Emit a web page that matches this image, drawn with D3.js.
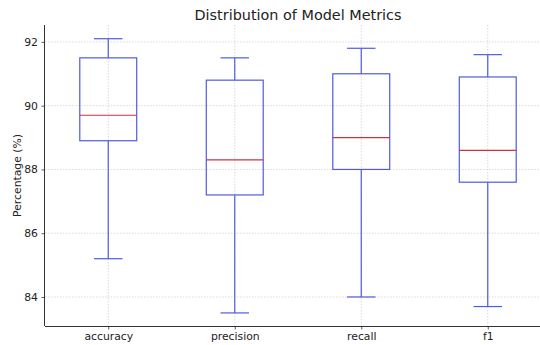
<!DOCTYPE html>
<html>
<head>
<meta charset="utf-8">
<script src="https://cdn.jsdelivr.net/npm/d3@7"></script>
<style>
  html, body { margin: 0; padding: 0; background: #fff; }
  svg { display: block; font-family: "DejaVu Sans", sans-serif; }
</style>
</head>
<body>
<svg id="chart" width="540" height="345"></svg>
<script>
// Box-plot summary statistics per metric (percent)
const metrics   = ["accuracy", "precision", "recall", "f1"];
const whiskLow  = [85.2, 83.5, 84.0, 83.7];
const q1        = [88.9, 87.2, 88.0, 87.6];
const medians   = [89.7, 88.3, 89.0, 88.6];
const q3        = [91.5, 90.8, 91.0, 90.9];
const whiskHigh = [92.1, 91.5, 91.8, 91.6];
const yTicks    = [84, 86, 88, 90, 92];

const boxes = metrics.map((m, i) => ({
  name: m, lo: whiskLow[i], q1: q1[i], med: medians[i], q3: q3[i], hi: whiskHigh[i]
}));

const svg = d3.select("#chart");
const margin = { left: 45, right: -11, top: 25, bottom: 19 };
const W = 540, H = 345;

const x = d3.scalePoint().domain(metrics)
  .range([margin.left, W - margin.right]).padding(0.5);
const y = d3.scaleLinear().domain([83.09, 92.53])
  .range([H - margin.bottom, margin.top]);

const step = x.step();
const boxW = step * 0.45;
const capW = boxW * 0.5;

const boxColor = "#4f5be0";
const medColor = "#d0303f";
const gridColor = "#d0d0d0";

// grid lines
const g = svg.append("g");
g.selectAll(".hgrid").data(yTicks).join("line")
  .attr("x1", margin.left).attr("x2", W)
  .attr("y1", d => y(d)).attr("y2", d => y(d))
  .attr("stroke", gridColor).attr("stroke-width", 0.8)
  .attr("stroke-dasharray", "1.5,1.5");
g.selectAll(".vgrid").data(metrics).join("line")
  .attr("x1", d => x(d)).attr("x2", d => x(d))
  .attr("y1", margin.top).attr("y2", H - margin.bottom)
  .attr("stroke", gridColor).attr("stroke-width", 0.8)
  .attr("stroke-dasharray", "1.5,1.5");

// boxes
const bg = svg.append("g").selectAll("g").data(boxes).join("g");
bg.append("line") // upper whisker
  .attr("x1", d => x(d.name)).attr("x2", d => x(d.name))
  .attr("y1", d => y(d.q3)).attr("y2", d => y(d.hi))
  .attr("stroke", boxColor).attr("stroke-width", 1.2);
bg.append("line") // lower whisker
  .attr("x1", d => x(d.name)).attr("x2", d => x(d.name))
  .attr("y1", d => y(d.q1)).attr("y2", d => y(d.lo))
  .attr("stroke", boxColor).attr("stroke-width", 1.2);
bg.append("line") // upper cap
  .attr("x1", d => x(d.name) - capW / 2).attr("x2", d => x(d.name) + capW / 2)
  .attr("y1", d => y(d.hi)).attr("y2", d => y(d.hi))
  .attr("stroke", boxColor).attr("stroke-width", 1.2);
bg.append("line") // lower cap
  .attr("x1", d => x(d.name) - capW / 2).attr("x2", d => x(d.name) + capW / 2)
  .attr("y1", d => y(d.lo)).attr("y2", d => y(d.lo))
  .attr("stroke", boxColor).attr("stroke-width", 1.2);
bg.append("rect")
  .attr("x", d => x(d.name) - boxW / 2).attr("width", boxW)
  .attr("y", d => y(d.q3)).attr("height", d => y(d.q1) - y(d.q3))
  .attr("fill", "none").attr("stroke", boxColor).attr("stroke-width", 1.2);
bg.append("line") // median
  .attr("x1", d => x(d.name) - boxW / 2).attr("x2", d => x(d.name) + boxW / 2)
  .attr("y1", d => y(d.med)).attr("y2", d => y(d.med))
  .attr("stroke", medColor).attr("stroke-width", 1.2);

// axes
const yAxis = svg.append("g")
  .attr("transform", `translate(${margin.left},0)`)
  .call(d3.axisLeft(y).tickValues(yTicks).tickSize(3.5).tickPadding(3.5).tickFormat(d3.format("d")));
const xAxis = svg.append("g")
  .attr("transform", `translate(0,${H - margin.bottom})`)
  .call(d3.axisBottom(x).tickSize(3.5).tickPadding(2.5));
[yAxis, xAxis].forEach(a => {
  a.select(".domain").attr("stroke", "#333").attr("stroke-width", 1);
  a.selectAll(".tick line").attr("stroke", "#333").attr("stroke-width", 0.8);
  a.selectAll(".tick text").attr("fill", "#222")
    .style("font-size", "10.8px").style("font-family", "DejaVu Sans, sans-serif");
});
yAxis.select(".domain").attr("d", `M-0.5,${margin.top}V${H - margin.bottom}`);
xAxis.select(".domain").attr("d", `M${margin.left},0.5H${W}`);

// title and axis label
svg.append("text")
  .attr("x", (margin.left + W - margin.right) / 2).attr("y", 20)
  .attr("text-anchor", "middle").attr("fill", "#222")
  .style("font-size", "14.4px")
  .text("Distribution of Model Metrics");
svg.append("text")
  .attr("transform", `translate(21,${(margin.top + H - margin.bottom) / 2}) rotate(-90)`)
  .attr("text-anchor", "middle").attr("fill", "#222")
  .style("font-size", "10.8px")
  .text("Percentage (%)");
</script>
</body>
</html>
